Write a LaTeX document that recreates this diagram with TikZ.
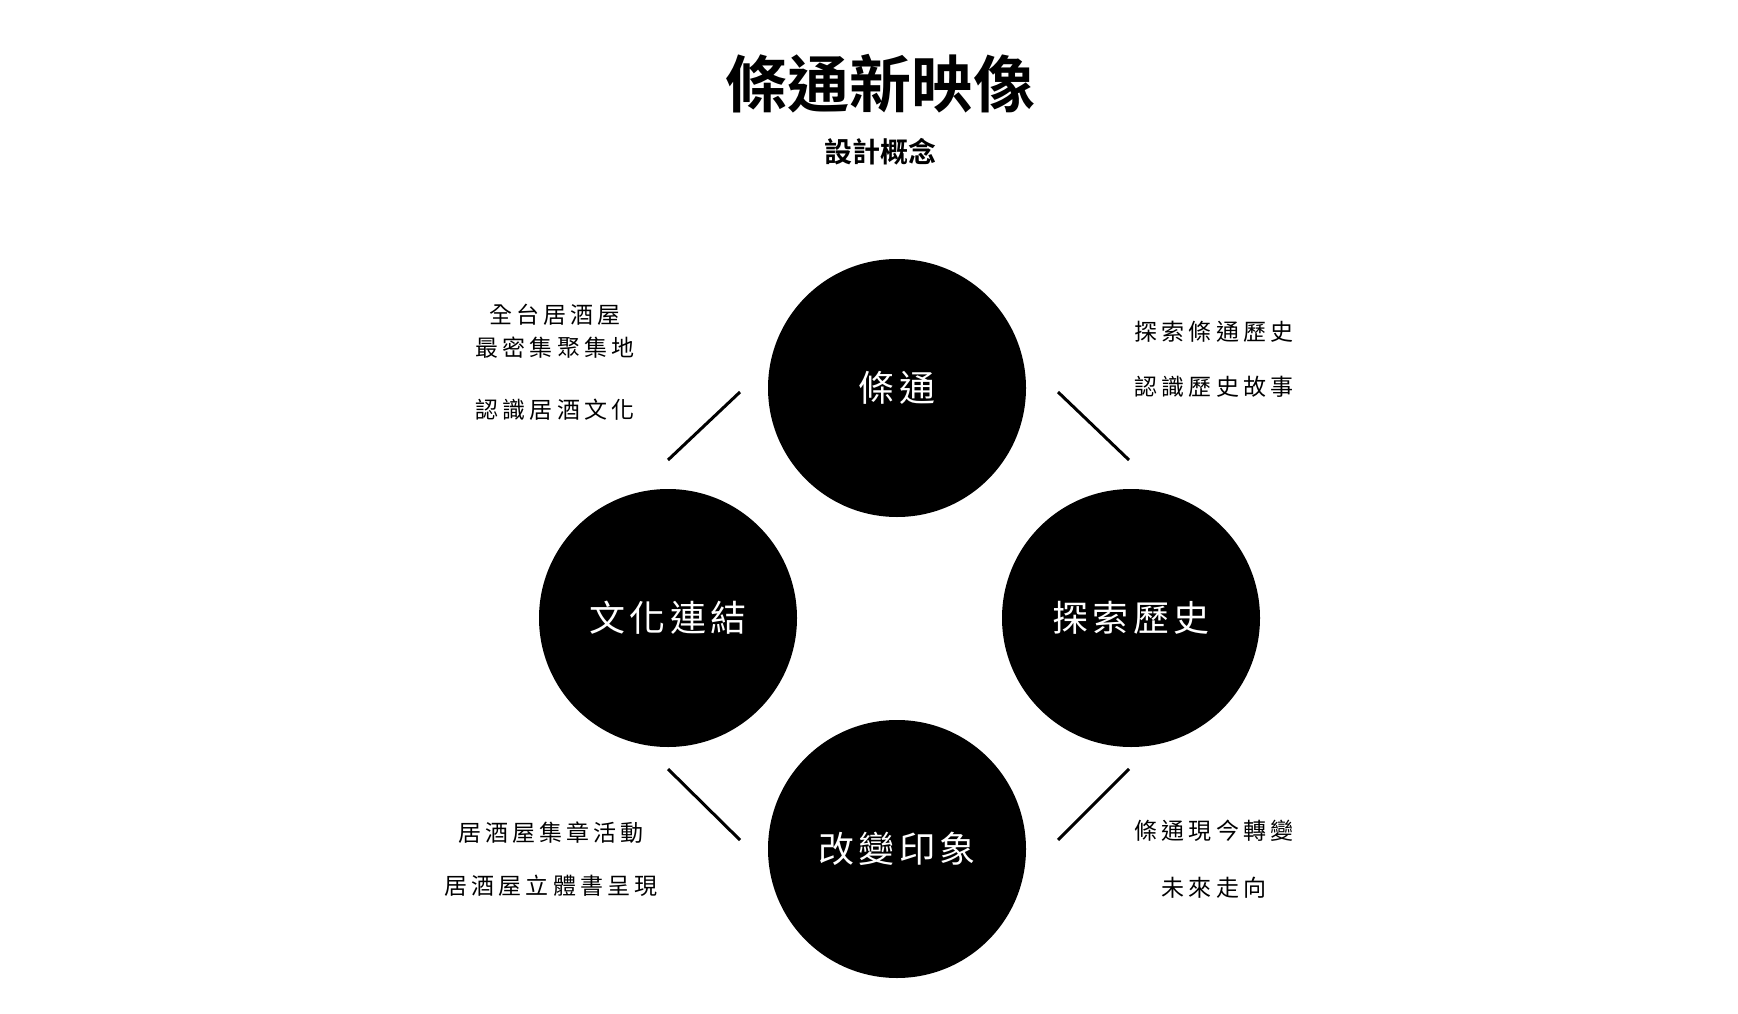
\documentclass[tikz,border=0pt]{standalone}
\usepackage{fontspec}
\newfontfamily\cjk[LetterSpace=18]{Noto Sans CJK TC}
\newfontfamily\cjkwide[LetterSpace=12]{Noto Sans CJK TC}
\newfontfamily\cjkbold[FakeBold=0]{Noto Sans CJK TC Bold}
\begin{document}
\begin{tikzpicture}[x=1pt, y=-1pt,
  topic/.style={circle, fill=black, minimum size=258pt, inner sep=0pt, text=white, font=\cjkwide\fontsize{36}{40}\selectfont},
  note/.style={align=center, font=\cjk\fontsize{23}{33}\selectfont}]

\useasboundingbox[fill=white] (0,0) rectangle (1738,1014);

% title
\node[font=\cjkbold\fontsize{62}{66}\selectfont] (title) at (880,84) {條通新映像};
\node[font=\cjkbold\fontsize{28}{32}\selectfont] (subtitle) at (880,152) {設計概念};

% circles
\node[topic] (top) at (897,388) {條通};
\node[topic] (left) at (668,618) {文化連結};
\node[topic] (right) at (1131,618) {探索歷史};
\node[topic] (bottom) at (897,849) {改變印象};

% connectors
\coordinate (tl1) at (668,460); \coordinate (tl2) at (740,392);
\coordinate (tr1) at (1058,392); \coordinate (tr2) at (1129,460);
\coordinate (bl1) at (668,769); \coordinate (bl2) at (740,840);
\coordinate (br1) at (1129,769); \coordinate (br2) at (1058,840);
\draw[line width=3] (tl1) -- (tl2);
\draw[line width=3] (tr1) -- (tr2);
\draw[line width=3] (bl1) -- (bl2);
\draw[line width=3] (br1) -- (br2);

% notes
\node[note] (tlnote) at (555,331) {全台居酒屋\\最密集聚集地};
\node[note] (tlnote2) at (555,410) {認識居酒文化};
\node[note] (trnote) at (1214,332) {探索條通歷史};
\node[note] (trnote2) at (1214,387) {認識歷史故事};
\node[note] (blnote) at (551,833) {居酒屋集章活動};
\node[note] (blnote2) at (551,886) {居酒屋立體書呈現};
\node[note] (brnote) at (1214,831) {條通現今轉變};
\node[note] (brnote2) at (1214,888) {未來走向};

\end{tikzpicture}
\end{document}
